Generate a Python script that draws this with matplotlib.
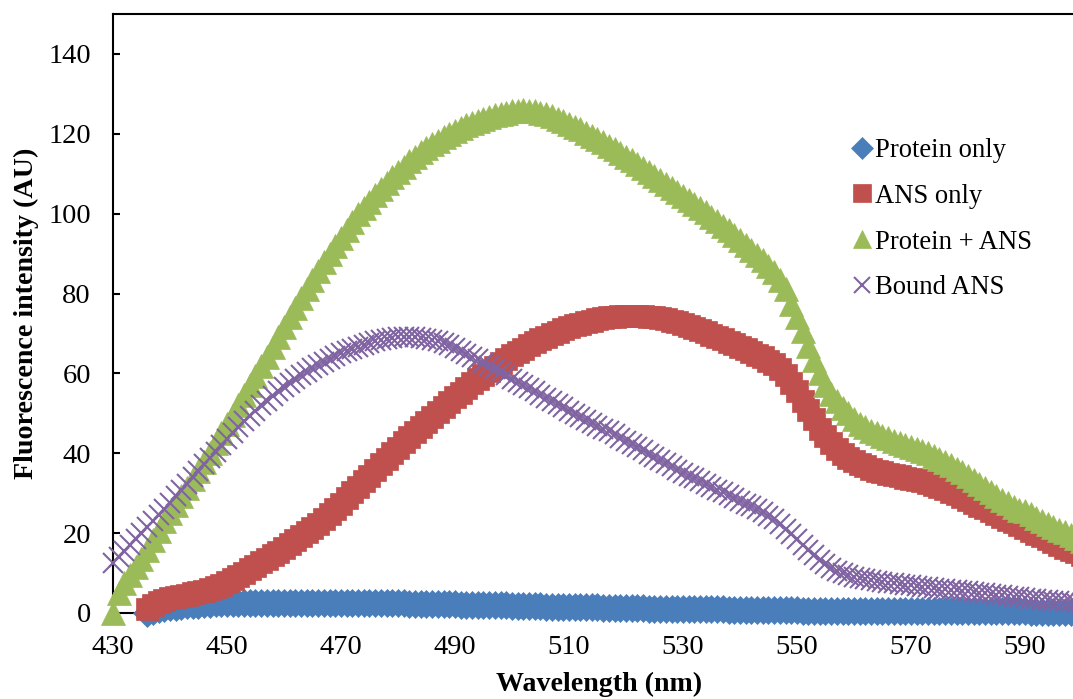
import matplotlib.pyplot as plt
import numpy as np

# wavelengths (nm), 1 nm steps
wl_full = np.arange(430, 601)   # Protein + ANS, Bound ANS
wl_late = np.arange(436, 601)   # Protein only, ANS only (start at 436)

protein_only = [
    0.0, 0.5, 0.9, 1.2,
    1.4, 1.6, 1.8, 1.9, 2.0, 2.1, 2.2, 2.3, 2.4, 2.4,
    2.5, 2.5, 2.5, 2.5, 2.5, 2.5, 2.5, 2.5, 2.5, 2.5,
    2.5, 2.5, 2.5, 2.5, 2.5, 2.5, 2.5, 2.5, 2.5, 2.5,
    2.5, 2.5, 2.5, 2.5, 2.5, 2.4, 2.4, 2.4, 2.4, 2.4,
    2.4, 2.4, 2.3, 2.3, 2.3, 2.3, 2.3, 2.2, 2.2, 2.2,
    2.2, 2.1, 2.1, 2.1, 2.0, 2.0, 2.0, 1.9, 1.9, 1.9,
    1.8, 1.8, 1.8, 1.7, 1.7, 1.7, 1.6, 1.6, 1.6, 1.5,
    1.5, 1.5, 1.4, 1.4, 1.4, 1.4, 1.3, 1.3, 1.3, 1.3,
    1.2, 1.2, 1.2, 1.2, 1.1, 1.1, 1.1, 1.1, 1.0, 1.0,
    1.0, 1.0, 1.0, 0.9, 0.9, 0.9, 0.9, 0.9, 0.8, 0.8,
    0.8, 0.8, 0.8, 0.8, 0.7, 0.7, 0.7, 0.7, 0.7, 0.7,
    0.7, 0.6, 0.6, 0.6, 0.6, 0.6, 0.6, 0.6, 0.6, 0.6,
    0.6, 0.6, 0.6, 0.6, 0.6, 0.6, 0.6, 0.6, 0.6, 0.6,
    0.5, 0.5, 0.5, 0.5, 0.5, 0.5, 0.5, 0.5, 0.5, 0.5,
    0.5, 0.5, 0.5, 0.5, 0.4, 0.4, 0.4, 0.4, 0.4, 0.4,
    0.4, 0.3, 0.3, 0.3, 0.3, 0.3, 0.3, 0.3, 0.3, 0.3,
    0.3,
]

ans_only = [
    1.0, 2.0, 2.8, 3.3,
    3.7, 4.0, 4.3, 4.6, 4.9, 5.2, 5.5, 5.9, 6.4, 7.0,
    7.7, 8.4, 9.2, 10.0, 10.9, 11.8, 12.7, 13.6, 14.5, 15.4,
    16.3, 17.2, 18.2, 19.2, 20.2, 21.3, 22.4, 23.6, 24.8, 26.1,
    27.4, 28.8, 30.2, 31.6, 33.0, 34.4, 35.8, 37.2, 38.6, 40.0,
    41.4, 42.7, 44.0, 45.3, 46.6, 47.9, 49.2, 50.4, 51.6, 52.8,
    54.0, 55.2, 56.4, 57.5, 58.6, 59.7, 60.7, 61.7, 62.7, 63.6,
    64.5, 65.4, 66.2, 67.0, 67.8, 68.5, 69.2, 69.8, 70.4, 71.0,
    71.5, 72.0, 72.4, 72.8, 73.2, 73.5, 73.8, 74.0, 74.2, 74.3,
    74.4, 74.4, 74.4, 74.3, 74.2, 74.0, 73.8, 73.5, 73.2, 72.8,
    72.4, 71.9, 71.4, 70.9, 70.3, 69.7, 69.1, 68.5, 67.9, 67.3,
    66.7, 66.1, 65.4, 64.7, 64.0, 63.2, 62.3, 61.0, 59.5, 57.6,
    55.5, 53.2, 50.9, 48.5, 46.2, 44.2, 42.5, 41.0, 39.8, 38.8,
    38.0, 37.3, 36.7, 36.1, 35.6, 35.2, 34.8, 34.5, 34.2, 33.9,
    33.6, 33.3, 33.0, 32.6, 32.1, 31.6, 31.0, 30.4, 29.7, 29.0,
    28.3, 27.6, 26.9, 26.2, 25.5, 24.8, 24.1, 23.4, 22.7, 22.0,
    21.3, 20.6, 19.9, 19.2, 18.5, 17.8, 17.1, 16.4, 15.8, 15.2,
    14.6,
]

protein_ans = [
    0.0, 5.0, 7.5, 9.5, 11.5, 13.5, 15.8, 18.2, 20.6, 23.0,
    25.0, 27.0, 29.3, 31.4, 33.5, 35.6, 37.9, 40.1, 42.5, 45.0,
    47.4, 49.6, 52.0, 54.5, 57.0, 59.4, 61.8, 64.0, 66.5, 69.0,
    71.5, 74.0, 76.5, 79.0, 81.2, 83.5, 85.6, 87.8, 90.0, 92.0,
    94.0, 96.0, 97.9, 99.8, 101.5, 103.0, 104.6, 106.1, 107.6, 109.1,
    110.5, 111.8, 113.1, 114.3, 115.4, 116.4, 117.4, 118.3, 119.2, 120.0,
    120.8, 121.5, 122.2, 122.8, 123.3, 123.8, 124.2, 124.6, 125.0, 125.3,
    125.6, 125.8, 125.9, 125.8, 125.6, 125.3, 124.9, 124.4, 123.8, 123.2,
    122.5, 121.8, 121.1, 120.3, 119.5, 118.7, 117.9, 117.0, 116.1, 115.2,
    114.3, 113.4, 112.5, 111.5, 110.5, 109.5, 108.5, 107.5, 106.5, 105.5,
    104.5, 103.5, 102.5, 101.4, 100.3, 99.2, 98.1, 97.0, 95.8, 94.6,
    93.4, 92.2, 91.0, 89.7, 88.4, 87.0, 85.4, 83.5, 81.2, 77.5,
    74.2, 70.6, 66.9, 63.3, 60.0, 57.2, 54.9, 53.0, 51.4, 50.0,
    48.5, 47.4, 46.5, 45.7, 45.0, 44.3, 43.7, 43.1, 42.6, 42.1,
    41.6, 41.1, 40.5, 40.0, 39.3, 38.6, 37.8, 37.0, 36.1, 35.2,
    34.2, 33.2, 32.2, 31.2, 30.2, 29.3, 28.4, 27.5, 26.6, 25.7,
    25.5, 24.7, 23.9, 23.1, 22.3, 21.6, 20.9, 20.2, 19.5, 18.8,
    18.1,
]

bound_ans = [
    12.5, 14.0, 15.5, 17.0, 18.5, 20.0, 21.5, 23.0, 24.5, 26.0,
    27.5, 29.2, 30.8, 32.4, 34.0, 35.6, 37.2, 38.8, 40.4, 42.0,
    43.6, 45.1, 46.6, 48.0, 49.4, 50.7, 52.0, 53.2, 54.4, 55.5,
    56.6, 57.6, 58.6, 59.5, 60.4, 61.3, 62.1, 62.9, 63.6, 64.3,
    65.0, 65.6, 66.2, 66.7, 67.2, 67.6, 68.0, 68.3, 68.6, 68.8,
    69.0, 69.1, 69.1, 69.0, 68.9, 68.7, 68.4, 68.0, 67.5, 67.0,
    66.3, 65.6, 64.9, 64.2, 63.5, 62.7, 61.9, 61.1, 60.3, 59.5,
    58.7, 57.9, 57.1, 56.3, 55.5, 54.7, 53.9, 53.1, 52.3, 51.5,
    50.7, 49.9, 49.1, 48.3, 47.6, 46.9, 46.2, 45.5, 44.7, 43.9,
    43.1, 42.3, 41.5, 40.7, 39.9, 39.1, 38.3, 37.5, 36.7, 35.9,
    35.1, 34.4, 33.7, 33.0, 32.3, 31.6, 30.9, 30.2, 29.5, 28.8,
    28.1, 27.4, 26.7, 26.0, 25.2, 24.4, 23.5, 22.4, 21.1, 19.8,
    18.5, 17.1, 15.7, 14.4, 13.2, 12.2, 11.3, 10.6, 10.0, 9.5,
    9.1, 8.8, 8.5, 8.2, 8.0, 7.8, 7.6, 7.4, 7.2, 7.0,
    6.9, 6.7, 6.6, 6.4, 6.3, 6.1, 6.0, 5.8, 5.7, 5.5,
    5.4, 5.2, 5.1, 4.9, 4.7, 4.6, 4.4, 4.2, 4.1, 3.9,
    3.8, 3.6, 3.5, 3.3, 3.2, 3.0, 2.9, 2.8, 2.7, 2.6,
    2.5,
]

labels = ["Protein only", "ANS only", "Protein + ANS", "Bound ANS"]
colors = ["#4A7EBB", "#C0504D", "#9BBB59", "#8064A2"]
yticks = [0, 20, 40, 60, 80, 100, 120, 140]
xticks = [430, 450, 470, 490, 510, 530, 550, 570, 590]

plt.rcParams['font.family'] = ['Liberation Serif', 'DejaVu Serif']

fig = plt.figure(figsize=(10.73, 6.99), dpi=100)
# axes runs past the right edge, as in the cropped original
ax = fig.add_axes([113 / 1073, 86 / 699, 969 / 1073, 599 / 699])

styles = [
    dict(marker='D', ms=14, mew=0.5),
    dict(marker='s', ms=15.5, mew=0.5),
    dict(marker='^', ms=17, mew=0.5),
    dict(marker='x', ms=15, mew=1.5),
]
series = [(wl_late, protein_only), (wl_late, ans_only),
          (wl_full, protein_ans), (wl_full, bound_ans)]

for (x, y), lab, c, st in zip(series, labels, colors, styles):
    ax.plot(x, y, linestyle='none', color=c, mfc=c, mec=c, label=lab,
            clip_on=False, zorder=3, **st)

ax.set_xlim(430, 600)
ax.set_ylim(0, 150)
ax.set_xticks(xticks)
ax.set_yticks(yticks)
ax.tick_params(axis='y', direction='in', length=5, width=1.5, pad=16, labelsize=20.5)
ax.tick_params(axis='x', length=0, pad=16, labelsize=20.5)

for side in ['left', 'bottom', 'top']:
    ax.spines[side].set_linewidth(1.5)
ax.spines['right'].set_visible(False)

fig.text(599 / 1073, 1 - 684 / 699, "Wavelength (nm)", ha='center', va='center',
         fontsize=20.2, fontweight='bold')
fig.text(26 / 1073, 1 - 313 / 699, "Fluorescence intensity (AU)", ha='center',
         va='center', rotation=90, fontsize=20.2, fontweight='bold')

ax.legend(loc='upper left', bbox_to_anchor=(854 / 1073, 1 - 138 / 699),
          bbox_transform=fig.transFigure, frameon=False, fontsize=19.2,
          markerscale=0.8, handlelength=0.6, handletextpad=0.2,
          labelspacing=0.78, borderpad=0, borderaxespad=0)

fig.savefig("out.png", dpi=100)
